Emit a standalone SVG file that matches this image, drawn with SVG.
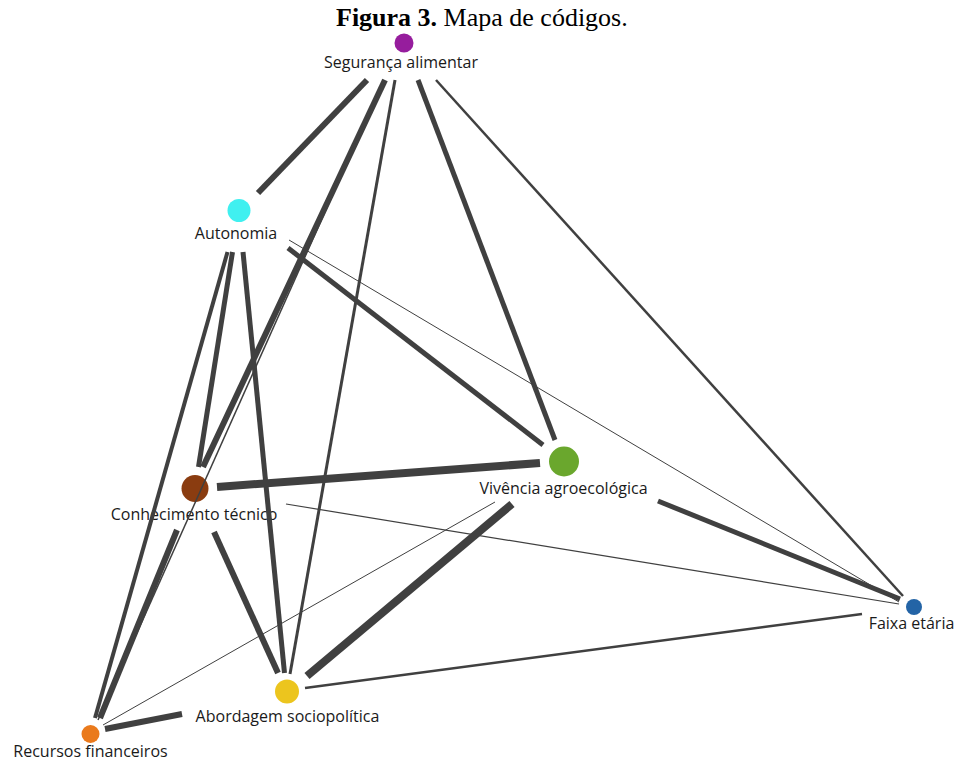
<svg xmlns="http://www.w3.org/2000/svg" width="957" height="762" viewBox="0 0 957 762">
<style>
  .bg { fill: #ffffff; }
  .title { font-family: "Liberation Serif", "Times New Roman", serif; font-size: 26px; fill: #000; }
  .lbl { font-family: "Open Sans", "Noto Sans", sans-serif; font-size: 16px; fill: #1a1a1a; text-anchor: middle; }
  .e { stroke: #404040; stroke-linecap: butt; fill: none; }
</style>
<rect class="bg" x="0" y="0" width="957" height="762"/>
<text class="title" x="336" y="26"><tspan font-weight="bold">Figura 3.</tspan> Mapa de códigos.</text>

<g id="nodes">
  <g id="n-seguranca">
    <circle cx="404" cy="43" r="9.5" fill="#961d9d"/>
    <text class="lbl" x="401" y="68">Segurança alimentar</text>
  </g>
  <g id="n-autonomia">
    <circle cx="239" cy="210.5" r="11.5" fill="#40f0f0"/>
    <text class="lbl" x="236" y="239">Autonomia</text>
  </g>
  <g id="n-conhecimento">
    <circle cx="195" cy="488.5" r="13.5" fill="#8a3c10"/>
    <text class="lbl" x="194" y="520">Conhecimento técnico</text>
  </g>
  <g id="n-vivencia">
    <circle cx="564" cy="461.5" r="15" fill="#6aa72d"/>
    <text class="lbl" x="563.5" y="494">Vivência agroecológica</text>
  </g>
  <g id="n-faixa">
    <circle cx="914" cy="607" r="8" fill="#2364a6"/>
    <text class="lbl" x="911.5" y="629">Faixa etária</text>
  </g>
  <g id="n-abordagem">
    <circle cx="287" cy="691.5" r="12" fill="#ecc51e"/>
    <text class="lbl" x="287.5" y="722">Abordagem sociopolítica</text>
  </g>
  <g id="n-recursos">
    <circle cx="90.5" cy="734" r="9" fill="#ea7a1c"/>
    <text class="lbl" x="90.5" y="757">Recursos financeiros</text>
  </g>
</g>

<g id="connectors">
  <line class="e" x1="367" y1="80" x2="258" y2="193" stroke-width="6"/>
  <line class="e" x1="385" y1="80" x2="203" y2="467" stroke-width="6"/>
  <line class="e" x1="395" y1="80" x2="290" y2="674" stroke-width="3"/>
  <line class="e" x1="418" y1="80" x2="555" y2="440" stroke-width="5"/>
  <line class="e" x1="436" y1="80" x2="903" y2="596" stroke-width="2.5"/>
  <line class="e" x1="384" y1="80" x2="98" y2="720" stroke-width="1.5"/>

  <line class="e" x1="232.5" y1="252" x2="198.5" y2="467" stroke-width="5"/>
  <line class="e" x1="227.5" y1="252" x2="95" y2="718" stroke-width="4"/>
  <line class="e" x1="243" y1="252" x2="284.5" y2="673" stroke-width="5"/>
  <line class="e" x1="288" y1="248" x2="543" y2="445" stroke-width="5"/>
  <line class="e" x1="289" y1="240" x2="899" y2="602" stroke-width="1"/>

  <line class="e" x1="217" y1="487" x2="540" y2="463" stroke-width="8"/>
  <line class="e" x1="286" y1="504" x2="899" y2="604" stroke-width="1.2"/>
  <line class="e" x1="214" y1="532" x2="278" y2="673" stroke-width="6"/>
  <line class="e" x1="177" y1="530" x2="100" y2="718" stroke-width="6"/>

  <line class="e" x1="658" y1="501" x2="900" y2="599" stroke-width="5"/>
  <line class="e" x1="512" y1="504" x2="307" y2="676" stroke-width="8"/>
  <line class="e" x1="495" y1="502" x2="103" y2="725" stroke-width="1"/>

  <line class="e" x1="305" y1="688" x2="862" y2="614" stroke-width="2.5"/>
  <line class="e" x1="182" y1="714" x2="105" y2="729" stroke-width="6"/>
</g>
</svg>
